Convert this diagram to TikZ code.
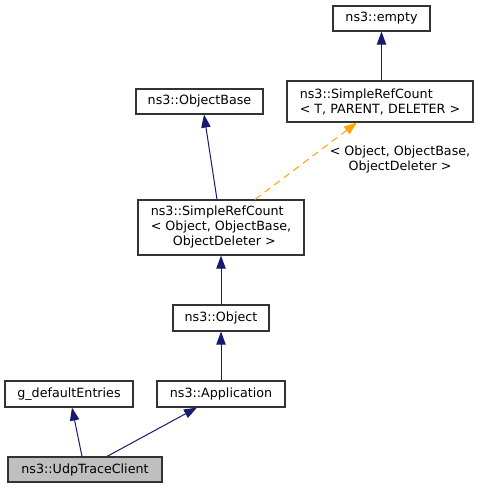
\documentclass[tikz,border=0pt]{standalone}
\usepackage{fontspec}
\setmainfont{DejaVu Sans}
\usetikzlibrary{arrows.meta}
\definecolor{edgeblue}{HTML}{191970}
\definecolor{edgeorange}{HTML}{FFA500}
\definecolor{boxgray}{HTML}{BFBFBF}
\definecolor{boxline}{HTML}{333333}
\begin{document}
\begin{tikzpicture}[x=1pt,y=1pt,
  cls/.style={draw=boxline,line width=1.1pt,fill=white,inner sep=0pt,
    font=\fontsize{12.7}{15}\selectfont,align=left},
  inh/.style={draw=edgeblue,line width=1pt,-{Triangle[length=13pt,width=9.3pt]}},
  tmpl/.style={draw=edgeorange,line width=1pt,dash pattern=on 7pt off 5pt,
    -{Triangle[length=13pt,width=9.3pt]}},
  lbl/.style={font=\fontsize{12.7}{15}\selectfont,align=center,inner sep=0pt}]
\useasboundingbox (0,0) rectangle (480,489);
\fill[white] (0,0) rectangle (480,489);
\node[cls,minimum width=97pt,minimum height=25pt] (empty) at (381.5,470.5) {ns3::empty};
\node[cls,minimum width=186pt,minimum height=41pt] (srcT) at (380,387.5) {ns3::SimpleRefCount\\< T, PARENT, DELETER >};
\node[cls,minimum width=127pt,minimum height=25pt] (objbase) at (199.5,387.5) {ns3::ObjectBase};
\node[cls,minimum width=166pt,minimum height=55pt] (srcO) at (221,261.5) {ns3::SimpleRefCount\\< Object, ObjectBase,\\\hspace*{22pt}ObjectDeleter >};
\node[cls,minimum width=96pt,minimum height=26pt] (object) at (221,171) {ns3::Object};
\node[cls,minimum width=128pt,minimum height=26pt] (gde) at (69,95) {g\_defaultEntries};
\node[cls,minimum width=128pt,minimum height=26pt] (app) at (221,95) {ns3::Application};
\node[cls,fill=boxgray,minimum width=154pt,minimum height=25pt] (udp) at (85,19.5) {ns3::UdpTraceClient};
\node[lbl] (tlabel) at (400,329) {< Object, ObjectBase,\\ObjectDeleter >};
\draw[inh] (srcT.north -| empty.south) -- (empty.south);
\draw[inh] ([xshift=-4pt]srcO.north) -- ([xshift=4.5pt]objbase.south);
\draw[tmpl] ([xshift=34pt]srcO.north) -- ([xshift=-23pt]srcT.south);
\draw[inh] (object.north) -- (srcO.south);
\draw[inh] (app.north) -- (object.south);
\draw[inh] ([xshift=-3pt]udp.north) -- ([xshift=3pt]gde.south);
\draw[inh] ([xshift=22pt]udp.north) -- ([xshift=-24pt]app.south);
\end{tikzpicture}
\end{document}
